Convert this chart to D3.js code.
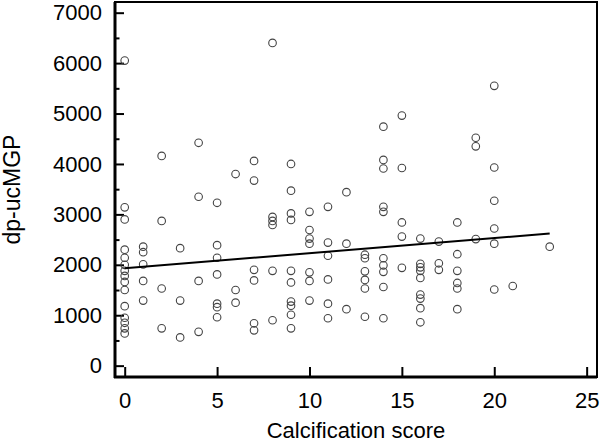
<!DOCTYPE html>
<html>
<head>
<meta charset="utf-8">
<script src="https://cdn.jsdelivr.net/npm/d3@7"></script>
<style>
  body { margin: 0; background: #fff; }
  text { font-family: "Liberation Sans", Arial, sans-serif; fill: #000; }
</style>
</head>
<body>
<div id="chart"></div>
<script>
// Set the dimensions and margins of the chart
var margin = {top: 2, right: 3, bottom: 67, left: 115},
    width = 600 - margin.left - margin.right,
    height = 444 - margin.top - margin.bottom;

// calcification score for each subject
var score = [
  0,0,0,0,0,0,0,0,0,0,0,0,0,0,0,
  1,1,1,1,1,
  2,2,2,2,
  3,3,3,
  4,4,4,4,
  5,5,5,5,5,5,5,
  6,6,6,
  7,7,7,7,7,7,
  8,8,8,8,8,8,
  9,9,9,9,9,9,9,9,9,9,
  10,10,10,10,10,10,10,
  11,11,11,11,11,11,
  12,12,12,
  13,13,13,13,13,13,
  14,14,14,14,14,14,14,14,14,14,
  15,15,15,15,15,
  16,16,16,16,16,16,16,16,16,
  17,17,17,
  18,18,18,18,18,18,
  19,19,19,
  20,20,20,20,20,20,
  21,
  23
];

// dp-ucMGP, same order as score
var ucmgp = [
  6050,3140,2900,2300,2140,2000,1880,1780,1660,1500,1180,950,850,740,640,
  2360,2250,2010,1680,1290,
  4160,2870,1530,740,
  2330,1290,560,
  4420,3350,1680,670,
  3230,2390,2140,1810,1230,1160,960,
  3800,1500,1250,
  4060,3670,1900,1690,840,700,
  6400,2950,2870,2790,1880,900,
  4000,3470,3020,2890,1880,1650,1270,1190,1010,740,
  3050,2690,2520,2420,1850,1680,1290,
  3150,2440,2180,1710,1230,940,
  3440,2420,1120,
  2200,2130,1870,1700,1530,970,
  4740,4080,3910,3150,3050,2130,1990,1860,1560,940,
  4960,3920,2840,2560,1940,
  2520,2020,1950,1880,1740,1410,1330,1140,860,
  2460,2030,1900,
  2840,2210,1880,1640,1530,1120,
  4520,4350,2510,
  5550,3930,3270,2720,2420,1510,
  1580,
  2360
];

// fitted regression line end points
var fitX = [0, 23],
    fitY = [1930, 2620];

var xTicks = [0, 5, 10, 15, 20, 25],
    yTicks = [0, 1000, 2000, 3000, 4000, 5000, 6000, 7000],
    yMinorTicks = d3.range(500, 7000, 1000);

var svg = d3.select("#chart").append("svg")
    .attr("width", width + margin.left + margin.right)
    .attr("height", height + margin.top + margin.bottom)
  .append("g")
    .attr("transform", "translate(" + margin.left + "," + margin.top + ")");

var x = d3.scaleLinear().domain([-0.525, 25.56]).range([0, width]);
var y = d3.scaleLinear().domain([-225, 7212]).range([height, 0]);

// minor y ticks (inward, no labels)
svg.append("g")
    .call(d3.axisLeft(y).tickValues(yMinorTicks).tickSize(-4.5).tickFormat(""))
    .call(function(g) { g.select(".domain").remove(); })
    .selectAll("line").attr("stroke", "#000").attr("stroke-width", 2);

// major y ticks
var yAxis = svg.append("g")
    .call(d3.axisLeft(y).tickValues(yTicks).tickSize(-9).tickPadding(13).tickFormat(d3.format("d")));
yAxis.select(".domain").remove();
yAxis.selectAll("line").attr("stroke", "#000").attr("stroke-width", 2);
yAxis.selectAll("text")
    .style("font-size", "22px")
    .style("font-family", "Liberation Sans, Arial, sans-serif")
    .attr("fill", "#000");

// x ticks
var xAxis = svg.append("g")
    .attr("transform", "translate(0," + height + ")")
    .call(d3.axisBottom(x).tickValues(xTicks).tickSize(-10).tickPadding(15));
xAxis.select(".domain").remove();
xAxis.selectAll("line").attr("stroke", "#000").attr("stroke-width", 2);
xAxis.selectAll("text")
    .style("font-size", "22px")
    .style("font-family", "Liberation Sans, Arial, sans-serif")
    .attr("fill", "#000");

// frame
svg.append("rect")
    .attr("x", 0).attr("y", 0)
    .attr("width", width).attr("height", height)
    .attr("fill", "none")
    .attr("stroke", "#000")
    .attr("stroke-width", 2);
svg.append("line")
    .attr("x1", 0).attr("x2", 0).attr("y1", 0).attr("y2", height + 1)
    .attr("stroke", "#000").attr("stroke-width", 3);
svg.append("line")
    .attr("x1", -1).attr("x2", width).attr("y1", height).attr("y2", height)
    .attr("stroke", "#000").attr("stroke-width", 3);

// points
svg.selectAll("circle.pt")
    .data(score.map(function(s, i) { return {s: s, v: ucmgp[i]}; }))
  .enter().append("circle")
    .attr("class", "pt")
    .attr("cx", function(d) { return x(d.s); })
    .attr("cy", function(d) { return y(d.v); })
    .attr("r", 3.8)
    .attr("fill", "none")
    .attr("stroke", "#444")
    .attr("stroke-width", 1.1);

// regression line
svg.append("path")
    .datum(fitX.map(function(v, i) { return [v, fitY[i]]; }))
    .attr("fill", "none")
    .attr("stroke", "#000")
    .attr("stroke-width", 2)
    .attr("d", d3.line().x(function(d) { return x(d[0]); }).y(function(d) { return y(d[1]); }));

// axis titles
svg.append("text")
    .attr("x", width / 2)
    .attr("y", height + 61)
    .attr("text-anchor", "middle")
    .style("font-size", "22px")
    .text("Calcification score");

svg.append("text")
    .attr("transform", "rotate(-90)")
    .attr("x", -height / 2)
    .attr("y", 20 - margin.left)
    .attr("text-anchor", "middle")
    .style("font-size", "23px")
    .text("dp-ucMGP");
</script>
</body>
</html>
